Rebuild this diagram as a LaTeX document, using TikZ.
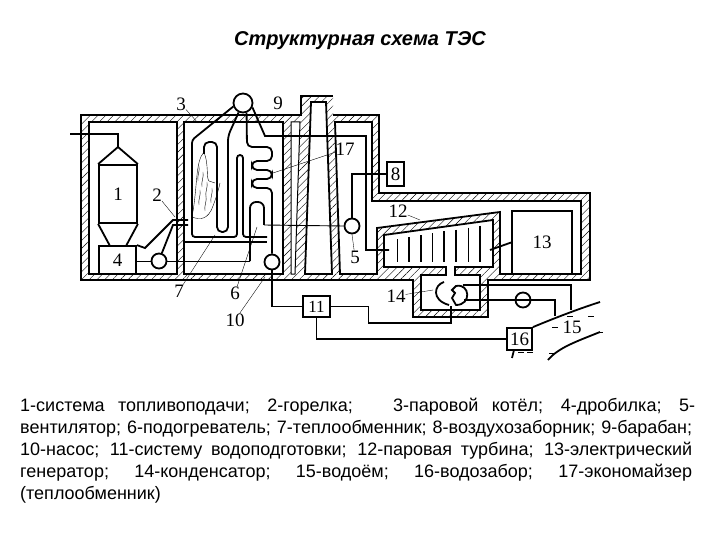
\documentclass[tikz,border=0pt]{standalone}
\usepackage{fontspec}
\setmainfont{Liberation Sans}
\newfontfamily\numfont{Liberation Serif}
\usetikzlibrary{patterns.meta}
\newcommand{\capline}[2][672pt]{\leavevmode\hbox to #1{\spaceskip=0pt\xspaceskip=0pt #2}}

\begin{document}
\begin{tikzpicture}[x=1pt,y=-1pt]
  \tikzset{
    hatch/.style={pattern={Lines[angle=45,distance=5.5pt,line width=.4pt]}},
    room/.style={fill=white,draw,line width=1.8pt},
    pipe/.style={line width=1.8pt},
    thinpipe/.style={line width=.9pt},
    leader/.style={line width=.35pt},
    flame/.style={line width=.4pt},
    box/.style={draw,line width=1.8pt,fill=white,inner sep=0pt,font=\numfont\fontsize{19}{19}\selectfont},
    pumpc/.style={circle,draw,line width=1.8pt,fill=white,minimum size=15pt,inner sep=0pt},
    lab/.style={inner sep=0pt,font=\numfont\fontsize{19}{19}\selectfont}
  }
  \useasboundingbox (0,0) rectangle (720,540);
  \node[font=\bfseries\itshape\fontsize{20}{20}\selectfont] (title) at (360,41) {Структурная схема ТЭС};

  \path[hatch] (81,115) -- (301,115) -- (301,96) -- (333,96) -- (333,115) -- (379,115) -- (379,193)
    -- (590,193) -- (590,280) -- (488,280) -- (488,317) -- (413,317) -- (413,280) -- (81,280) -- cycle;
  \draw[pipe] (333,96) -- (301,96) -- (301,115) -- (81,115) -- (81,280) -- (413,280) -- (413,317) -- (488,317)
    -- (488,280) -- (590,280) -- (590,193) -- (379,193) -- (379,115) -- (333,115);
  \draw[room] (89,122) rectangle (177,274);
  \draw[room] (184,122) rectangle (283,274);
  \draw[room,line width=1pt] (291,122) -- (300,122) -- (295,274) -- (291,274) -- cycle;
  \draw[room] (311,102) -- (326,102) -- (332,274) -- (305,274) -- cycle;
  \draw[room] (335,122) -- (372,122) -- (372,201) -- (581,201) -- (581,274) -- (500,274) -- (500,212)
    -- (377,228) -- (377,274) -- (340,274) -- cycle;
  \draw[room] (384,235) -- (493,220) -- (493,267) -- (455,267) -- (455,275) -- (480,275) -- (480,310)
    -- (421,310) -- (421,275) -- (446,275) -- (446,267) -- (384,267) -- cycle;

  \node[box,minimum width=38pt,minimum height=58pt] (box1) at (118,194) {1};
  \node[box,minimum width=37pt,minimum height=28pt] (box4) at (117.5,260) {4};
  \node[box,minimum width=17pt,minimum height=24pt] (box8) at (395.5,174) {8};
  \node[box,minimum width=27pt,minimum height=21pt,font=\numfont\fontsize{17}{17}\selectfont] (box11) at (316.5,306.5) {11};
  \node[box,minimum width=60pt,minimum height=63pt] (box13) at (542,242.5) {13};
  \node[box,minimum width=25pt,minimum height=22pt] (box16) at (519.5,339) {16};
  \node[pumpc,minimum size=19pt] (drum) at (243,103) {};
  \node[pumpc] (fan2) at (159,261) {};
  \node[pumpc] (pump10) at (272,262) {};
  \node[pumpc] (fan5) at (352,226) {};
  \node[circle,minimum size=28pt,inner sep=0pt] (cond) at (451,292) {};

  \coordinate (feed) at (70,134);
  \coordinate (top1) at (118,147);
  \coordinate (turbin) at (389,250);
  \coordinate (turbout) at (490,250);
  \coordinate (shore1) at (600,302);
  \coordinate (shore2) at (600,332);
  \coordinate (intake) at (514,350);

  % bunker
  \draw[pipe] (feed) -| (top1);
  \draw[pipe] (box1.north west) -- (top1) -- (box1.north east);
  \draw[pipe] (box1.south west) -- (110,246);
  \draw[pipe] (box1.south east) -- (126,246);
  % burner
  \draw[pipe] (box4.north east) -- (145,248) -- (173,220) -- (188,220);
  \draw[pipe] (fan2.70) -- (173,225) -- (188,225);
  \draw[thinpipe] (box4.east |- fan2) -- (fan2.west);
  \draw[thinpipe] (fan2.east) -- (250,261);
  \draw[pipe,rounded corners=6pt] (250,261) -- (250,202) -- (264,202) -- (264,225);
  \draw[thinpipe] (264,225) -- (fan5.west);
  \draw[pipe] (fan5.north) |- (box8.west);
  % boiler tubes
  \draw[pipe,rounded corners=3pt] (drum.200) -- (192,140) -- (192,237) -- (237,237) -- (237,155)
    -- (243,155) -- (243,237) -- (267,237);
  \draw[pipe] (184,242) -- (267,242);
  \draw[pipe,rounded corners=5pt] (drum.-115) -- (228,136) -- (228,232) -- (217,232) -- (217,142)
    -- (204,142) -- (204,154);
  \draw[pipe,rounded corners=5pt] (drum.-70) -- (247,147) -- (272,147) -- (272,161) -- (252,161)
    -- (252,170) -- (272,170) -- (272,179) -- (252,179) -- (252,188) -- (272,188) -- (pump10.north);
  \draw[pipe] (drum.-25) -- (265,136) -- (366,136) |- (turbin);
  % flame
  \draw[flame] (204,152) .. controls (195,162) and (198,185) .. (192,217)
    .. controls (200,220) and (208,220) .. (213,206) .. controls (216,198) and (218,192) .. (220,183);
  \draw[flame] (204,152) .. controls (209,165) and (206,178) .. (209,181) -- (215,183);
  \foreach \x/\y in {199/166,203/172,207/182,212/188,200/190,206/196}
    \draw[flame] (\x,\y) .. controls (\x+1,\y+6) and (\x-2,\y+9) .. (\x-1,\y+15);
  % turbine
  \foreach \x/\w in {397/.6,409/1.6,421/1.6,432/.6,444/1.6,456/1.6,468/.6,480/1.6}
    \draw[line width=\w pt] (\x,{239-(\x-397)*.16}) -- (\x,262);
  \draw[pipe] (turbout) -- (box13.west);
  % condenser
  \draw[pipe] (444,282) .. controls (434,285) and (431,300) .. (449,305);
  \draw[pipe] (456,286) .. controls (470,283) and (472,305) .. (456,305) -- (452,298) -- (455,293) -- (452,290) -- cycle;
  \draw[pipe] (cond.35 |- 0,285) -- (571,285) -- (571,310);
  \draw[pipe] (cond.-25 |- 0,300) -- (555,300) -- (555,316);
  \node[pumpc] (pumpw) at (523,300) {};
  \draw[pipe] (pumpw.west) -- (pumpw.east);
  % feed water
  \draw[pipe] (pump10.south) |- (box11.west);
  \draw[thinpipe] (box11.east) -| (368,323);
  \draw[pipe] (368,323) -| (cond.south);
  \draw[pipe] (box11.south) |- (box16.west);
  % river
  \draw[pipe] (box16.north east) .. controls (550,320) and (575,310) .. (shore1);
  \draw[pipe] (548,360) .. controls (558,348) and (575,342) .. (shore2);
  \draw[pipe] (intake) -- (512,358);
  \foreach \x/\y in {567/316,588/316,552/327,597/332,518/352,527/352,549/353}
    \draw[line width=.7pt] (\x,\y) -- ++(6,0);

  % labels
  \node[lab] (lab3) at (181,104) {3};
  \node[lab] (lab9) at (278,103) {9};
  \node[lab] (lab17) at (345,149) {17};
  \node[lab] (lab2) at (157,195) {2};
  \node[lab] (lab7) at (179,291) {7};
  \node[lab] (lab6) at (235,293) {6};
  \node[lab] (lab10) at (235,320) {10};
  \node[lab] (lab5) at (355,257) {5};
  \node[lab] (lab12) at (398,211) {12};
  \node[lab] (lab14) at (396,296) {14};
  \node[lab] (lab15) at (572,327) {15};
  \draw[leader] (lab3) -- (198,123);
  \draw[leader] (lab17) -- (273,173);
  \draw[leader] (lab2) -- (175,217);
  \draw[leader] (lab7) -- (215,235);
  \draw[leader] (lab6) -- (257,227);
  \draw[leader] (lab10) -- (265,277);
  \draw[leader] (lab5) -- (fan5.south);
  \draw[leader] (lab12) -- (420,220);
  \draw[leader] (lab14) -- (433,290);

  \node[anchor=north west,inner sep=0pt,align=left,text width=675pt,
    font=\fontsize{18}{22}\selectfont] (legend) at (20,398) {%
    \capline[675pt]{1-система топливоподачи; 2-горелка;\ \ \ 3-паровой котёл; 4-дробилка; 5-}\\
    \capline{вентилятор; 6-подогреватель; 7-теплообменник; 8-воздухозаборник; 9-барабан;}\\
    \capline{10-насос; 11-систему водоподготовки; 12-паровая турбина; 13-электрический}\\
    \capline{генератор; 14-конденсатор; 15-водоём; 16-водозабор; 17-экономайзер}\\
    (теплообменник)};
\end{tikzpicture}
\end{document}
